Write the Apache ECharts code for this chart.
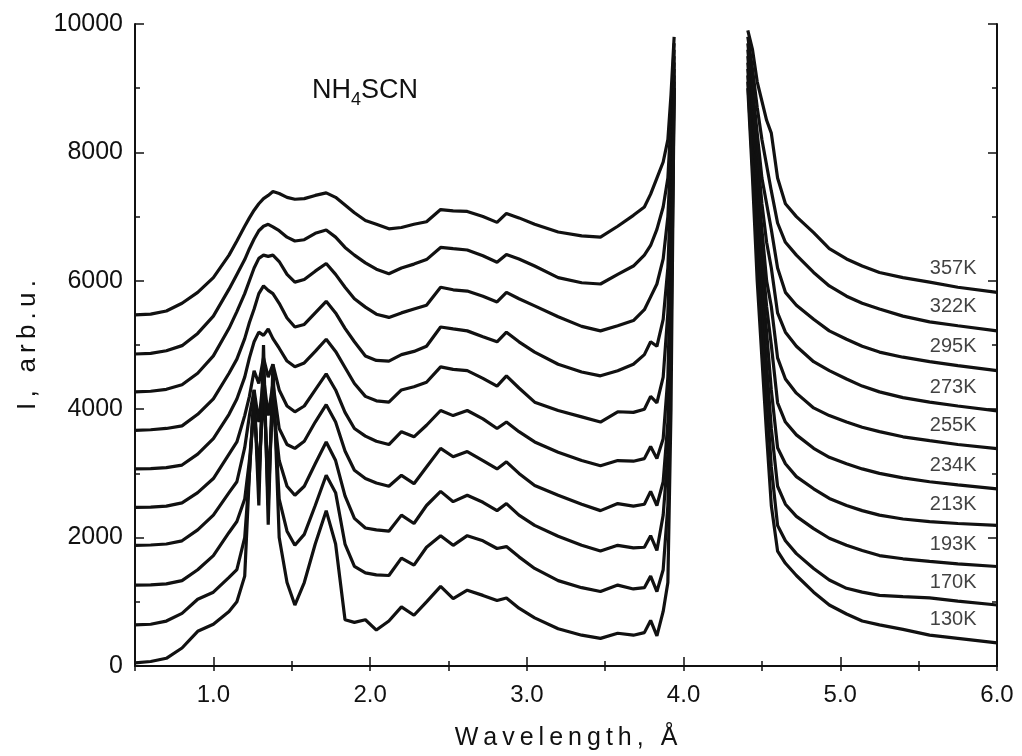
<!DOCTYPE html>
<html>
<head>
<meta charset="utf-8">
<script src="https://cdn.jsdelivr.net/npm/echarts@6/dist/echarts.min.js"></script>
<style>
html,body{margin:0;padding:0;background:#fff;}
#chart{width:1022px;height:756px;}
</style>
</head>
<body>
<div id="chart"></div>
<script>
// Temperatures (curve labels, top to bottom)
const temps = ['357K','322K','295K','273K','255K','234K','213K','193K','170K','130K'];

// Wavelength samples (Å) for the part below the gap and above the gap
const xLeft = [0.5,0.6,0.7,0.8,0.9,1.0,1.1,1.15,1.2,1.23,1.26,1.29,1.32,1.35,1.38,1.42,1.47,1.52,1.58,1.65,
  1.72,1.78,1.84,1.9,1.97,2.04,2.12,2.2,2.28,2.36,2.45,2.53,2.62,2.72,2.81,2.87,2.95,3.05,3.2,3.35,
  3.47,3.58,3.68,3.75,3.79,3.83,3.87,3.9,3.92,3.94];
const xRight = [4.41,4.44,4.47,4.5,4.53,4.56,4.6,4.65,4.72,4.83,4.93,5.04,5.14,5.25,5.4,5.57,5.75,6.0];

// Intensities (arb.u.), left part
const left357 = [5470,5480,5530,5650,5820,6050,6400,6620,6850,6980,7100,7200,7280,7330,7390,7360,7300,7270,7280,7330,
  7370,7300,7180,7060,6940,6880,6810,6830,6880,6920,7110,7090,7080,7000,6910,7050,6980,6880,6760,6700,
  6680,6850,7020,7150,7350,7600,7850,8200,8900,9800];
const left322 = [4860,4870,4910,4990,5180,5450,5870,6100,6330,6500,6650,6780,6850,6880,6840,6780,6680,6620,6640,6740,
  6790,6680,6520,6400,6280,6180,6110,6200,6260,6330,6520,6500,6480,6390,6290,6410,6340,6230,6050,5970,
  5950,6100,6230,6400,6550,6800,7150,7600,8500,9700];
const left295 = [4270,4280,4310,4380,4560,4830,5260,5520,5800,6000,6200,6350,6400,6380,6400,6300,6100,5980,6020,6150,
  6270,6100,5900,5720,5590,5480,5430,5500,5560,5620,5900,5860,5840,5760,5670,5820,5720,5610,5440,5290,
  5220,5300,5380,5550,5750,5950,6340,7000,8000,9600];
const left273 = [3670,3680,3700,3740,3920,4160,4560,4780,5100,5350,5560,5800,5920,5850,5800,5650,5420,5280,5320,5500,
  5680,5500,5260,5050,4830,4760,4750,4850,4900,4980,5280,5250,5220,5130,5050,5200,5050,4890,4700,4580,
  4520,4600,4700,4850,5050,4980,5400,6200,7500,9500];
const left255 = [3070,3075,3090,3130,3300,3540,3920,4160,4500,4800,5050,5200,5150,5250,5100,4950,4750,4660,4720,4900,
  5090,4900,4650,4400,4200,4130,4110,4300,4350,4420,4660,4620,4600,4480,4360,4520,4330,4110,3980,3880,
  3800,3960,3950,4000,4200,4100,4500,5500,7000,9400];
const left234 = [2470,2475,2490,2540,2700,2920,3300,3490,3900,4200,4600,4400,4800,4500,4700,4300,4050,3960,4050,4300,
  4550,4300,3950,3700,3580,3500,3450,3650,3570,3750,3980,3900,3980,3850,3700,3800,3650,3490,3330,3200,
  3120,3200,3190,3230,3420,3230,3540,4500,6500,9300];
const left213 = [1880,1885,1900,1950,2120,2350,2700,2870,3400,3900,4300,3800,4500,3900,4400,3700,3450,3390,3500,3800,
  4070,3800,3350,3050,2920,2850,2800,2970,2840,3100,3390,3260,3340,3200,3070,3180,3000,2810,2660,2520,
  2420,2530,2490,2520,2720,2500,2870,3800,6000,9200];
const left193 = [1260,1265,1280,1330,1500,1720,2080,2250,2600,3200,4000,3000,4300,2900,4100,3200,2800,2660,2800,3150,
  3490,3200,2650,2300,2150,2120,2100,2350,2220,2500,2720,2560,2660,2550,2420,2530,2350,2190,2020,1880,
  1790,1880,1840,1850,2030,1800,2350,3300,5500,9100];
const left170 = [640,650,700,820,1040,1150,1380,1500,2000,3000,4200,2800,4600,2500,4400,2600,2100,1880,2050,2500,
  2970,2700,1900,1550,1450,1420,1410,1680,1570,1850,2030,1880,2030,1950,1830,1860,1700,1520,1330,1220,
  1160,1260,1200,1220,1400,1160,1500,2500,5000,9000];
const left130 = [50,70,120,280,540,650,850,1000,1400,3000,4300,2500,5000,2200,4700,2000,1300,950,1300,1900,
  2420,1900,720,680,720,560,700,920,790,1000,1240,1050,1180,1100,1020,1060,900,750,580,480,
  430,510,480,520,710,470,850,1300,4000,9000];

// Intensities (arb.u.), right part
const right357 = [9900,9600,9100,8800,8500,8300,7600,7200,7000,6750,6500,6340,6230,6130,6050,5980,5900,5820];
const right322 = [9800,9300,8700,8200,7800,7400,6900,6600,6400,6130,5920,5760,5650,5560,5450,5360,5300,5220];
const right295 = [9700,9000,8300,7600,7200,6800,6200,5820,5620,5400,5220,5090,4980,4890,4810,4740,4680,4600];
const right273 = [9600,8800,8000,7200,6600,6200,5500,5200,4980,4740,4600,4470,4360,4270,4180,4110,4050,3975];
const right255 = [9500,8600,7600,6800,6000,5600,4800,4470,4250,4020,3900,3800,3720,3650,3570,3510,3450,3385];
const right234 = [9400,8400,7300,6400,5600,5000,4100,3800,3600,3390,3250,3150,3070,3000,2930,2870,2820,2760];
const right213 = [9300,8200,7000,6000,5200,4300,3400,3150,2950,2760,2610,2500,2420,2350,2290,2250,2220,2190];
const right193 = [9200,8000,6700,5700,4700,3700,2800,2520,2330,2140,1990,1880,1800,1720,1670,1630,1590,1550];
const right170 = [9100,7800,6400,5300,4200,3100,2190,1950,1750,1520,1340,1210,1150,1100,1080,1060,1010,950];
const right130 = [9000,7600,6000,4800,3600,2500,1790,1600,1410,1150,950,810,700,640,570,480,430,360];

const leftSets = [left357,left322,left295,left273,left255,left234,left213,left193,left170,left130];
const rightSets = [right357,right322,right295,right273,right255,right234,right213,right193,right170,right130];

const FONT = "'Liberation Sans', Arial, Helvetica, sans-serif";
const INK = '#111';
const TS = '\u2009';

const series = [];
temps.forEach((t, i) => {
  const common = {
    type: 'line', showSymbol: false, symbol: 'none', silent: true,
    lineStyle: { color: INK, width: 3.2 }, z: 3, clip: true
  };
  series.push(Object.assign({ name: t + ' a', data: xLeft.map((x, j) => [x, leftSets[i][j]]) }, common));
  series.push(Object.assign({ name: t + ' b', data: xRight.map((x, j) => [x, rightSets[i][j]]) }, common));
});
// temperature labels just above each curve near the right edge
const labelIdx = xRight.indexOf(5.75);
series.push({
  type: 'scatter', symbolSize: 0, silent: true, z: 5,
  data: temps.map((t, i) => [xRight[labelIdx] - 0.03, rightSets[i][labelIdx], t]),
  label: {
    show: true, position: 'top', distance: 9,
    formatter: p => p.data[2],
    fontFamily: FONT, fontSize: 20, color: INK
  }
});

const axisLineStyle = { color: INK, width: 2 };
const chart = echarts.init(document.getElementById('chart'), null, { renderer: 'canvas' });
chart.setOption({
  animation: false,
  backgroundColor: '#fff',
  title: {
    text: '{a|NH}{b|4}{a|SCN}',
    left: 307, top: 72,
    textStyle: {
      fontWeight: 'normal',
      rich: {
        a: { fontFamily: FONT, fontWeight: 'normal', fontSize: 27, color: INK, lineHeight: 32, verticalAlign: 'top' },
        b: { fontFamily: FONT, fontWeight: 'normal', fontSize: 18, color: INK, lineHeight: 32, verticalAlign: 'bottom', padding: [13, 0, 0, 0] }
      }
    }
  },
  grid: { left: 135, right: 25, top: 24, bottom: 88, containLabel: false },
  xAxis: [
    {
      type: 'value', position: 'bottom', min: 0.5, max: 6, interval: 0.5,
      axisLine: { show: true, lineStyle: axisLineStyle },
      axisTick: { show: true, inside: true, length: 5, lineStyle: { color: INK, width: 1.5 } },
      axisLabel: {
        formatter: v => (Math.abs(v - Math.round(v)) < 1e-6 ? v.toFixed(1) : ''),
        fontFamily: FONT, fontSize: 24, color: INK, margin: 17
      },
      splitLine: { show: false },
      name: ['W','a','v','e','l','e','n','g','t','h',',',' ','Å'].join(TS),
      nameLocation: 'middle', nameGap: 60,
      nameTextStyle: { fontFamily: FONT, fontSize: 25, color: INK }
    },
    {
      type: 'value', position: 'top', min: 0.5, max: 6, interval: 0.5,
      axisLine: { show: true, lineStyle: axisLineStyle },
      axisTick: { show: true, inside: true, length: 5, lineStyle: { color: INK, width: 1.5 } },
      axisLabel: { show: false }, splitLine: { show: false }
    },
    {
      type: 'value', position: 'bottom', min: 0.5, max: 6,
      axisLine: { show: false },
      axisTick: { show: true, inside: true, length: 9, customValues: [1, 2, 3, 4, 5, 6], lineStyle: { color: INK, width: 1.5 } },
      axisLabel: { show: false }, splitLine: { show: false }
    }
  ],
  yAxis: [
    {
      type: 'value', position: 'left', min: 0, max: 10000, interval: 2000,
      axisLine: { show: true, lineStyle: axisLineStyle },
      axisTick: { show: true, inside: true, length: 9, lineStyle: { color: INK, width: 1.5 } },
      minorTick: { show: true, splitNumber: 2, length: 5, lineStyle: { color: INK, width: 1.5 } },
      axisLabel: { fontFamily: FONT, fontSize: 25, color: INK, margin: 12, formatter: v => String(v) },
      splitLine: { show: false }, minorSplitLine: { show: false },
      name: ['I', ',', ' ', 'a', 'r', 'b', '.', 'u', '.'].join(TS),
      nameLocation: 'middle', nameGap: 94, nameRotate: 90,
      nameTextStyle: { fontFamily: FONT, fontSize: 26, color: INK }
    },
    {
      type: 'value', position: 'right', min: 0, max: 10000, interval: 2000,
      axisLine: { show: true, lineStyle: axisLineStyle },
      axisTick: { show: true, inside: true, length: 9, lineStyle: { color: INK, width: 1.5 } },
      minorTick: { show: true, splitNumber: 2, length: 5, lineStyle: { color: INK, width: 1.5 } },
      axisLabel: { show: false }, splitLine: { show: false }, minorSplitLine: { show: false }
    }
  ],
  series: series
});
</script>
</body>
</html>
